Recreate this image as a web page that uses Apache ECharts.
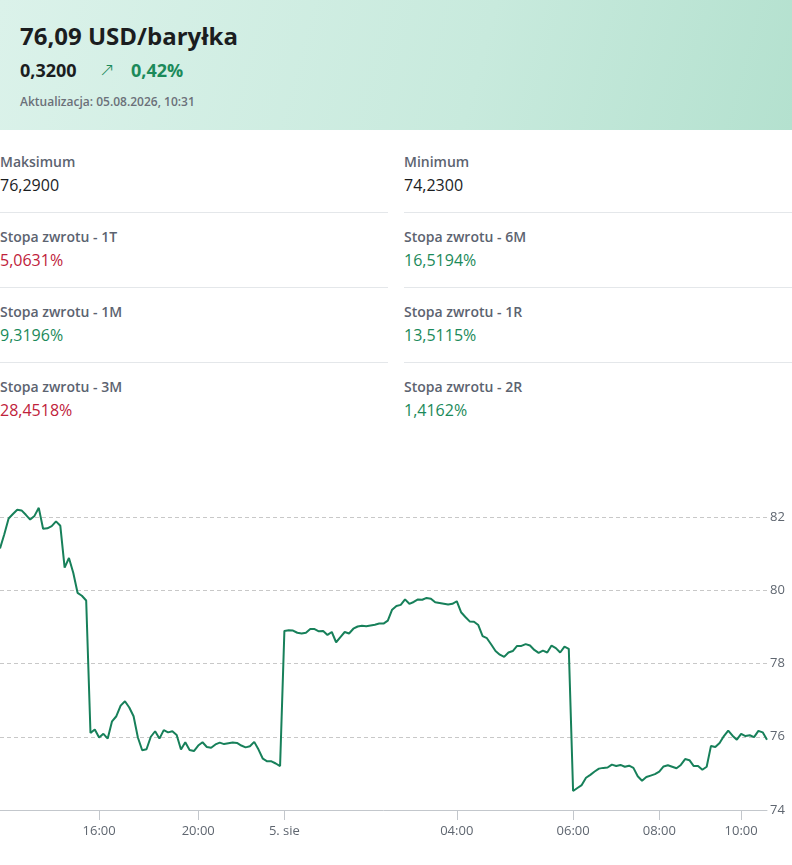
<!DOCTYPE html>
<html>
<head>
<meta charset="utf-8">
<script src="https://cdn.jsdelivr.net/npm/echarts@6/dist/echarts.min.js"></script>
<style>
  html, body { margin:0; padding:0; }
  body { width:792px; height:865px; overflow:hidden; position:relative; background:#fff; font-family:"Open Sans", "Noto Sans", sans-serif; }
  .hdr { position:absolute; left:0; top:0; width:792px; height:130px;
         background:linear-gradient(105deg, #dbf2ea 0%, #c8eadd 60%, #b4e1cf 100%); }
  .title { position:absolute; left:20px; top:24px; font-size:24px; line-height:24px; font-weight:700; color:#1b1d1f; white-space:nowrap; }
  .chg { position:absolute; left:20px; top:61px; font-size:18px; line-height:18px; font-weight:700; color:#1b1d1f; }
  .arrow { position:absolute; left:99px; top:58px; font-size:19px; line-height:22px; color:#1b8a5a; font-family:"DejaVu Sans", sans-serif; font-weight:300; }
  .pct { position:absolute; left:131px; top:61px; font-size:18px; line-height:18px; font-weight:700; color:#1b8a5a; }
  .upd { position:absolute; left:20px; top:95px; font-size:12px; line-height:14px; font-weight:600; color:#6b7079; white-space:nowrap; }
  .lab { position:absolute; font-size:14px; line-height:20px; font-weight:600; color:#5c6370; white-space:nowrap; }
  .val { position:absolute; font-size:16px; line-height:22px; font-weight:500; color:#1b1d1f; white-space:nowrap; }
  .val.up { color:#1b8a5a; }
  .val.down { color:#c0223b; }
  .div { position:absolute; height:1px; background:#e4e7ea; }
  #chart { position:absolute; left:0; top:440px; width:792px; height:425px; }
</style>
</head>
<body>
<div class="hdr">
  <div class="title">76,09 USD/baryłka</div>
  <div class="chg">0,3200</div>
  <div class="arrow">↗</div>
  <div class="pct">0,42%</div>
  <div class="upd">Aktualizacja: 05.08.2026, 10:31</div>
</div>
<div id="stats"></div>
<div id="chart"></div>
<script>
// ---- stats ----
const leftLabels  = ["Maksimum", "Stopa zwrotu - 1T", "Stopa zwrotu - 1M", "Stopa zwrotu - 3M"];
const leftValues  = ["76,2900", "5,0631%", "9,3196%", "28,4518%"];
const leftTrend   = ["", "down", "up", "down"];
const rightLabels = ["Minimum", "Stopa zwrotu - 6M", "Stopa zwrotu - 1R", "Stopa zwrotu - 2R"];
const rightValues = ["74,2300", "16,5194%", "13,5115%", "1,4162%"];
const rightTrend  = ["", "up", "up", "up"];

// ---- chart data ----
const times = [
  "12:10","12:20","12:30","12:40","12:50","13:00","13:10","13:20","13:30","13:40","13:50","14:00",
  "14:10","14:20","14:30","14:40","14:50","15:00","15:10","15:20","15:30","15:40","15:50","16:00",
  "16:10","16:20","16:30","16:40","16:50","17:00","17:10","17:20","17:30","17:40","17:50","18:00",
  "18:10","18:20","18:30","18:40","18:50","19:00","19:10","19:20","19:30","19:40","20:00",
  "20:12","20:24","20:36","20:48","21:00","21:12","21:24","21:36","21:48","22:00","22:12","22:24",
  "22:36","22:48","23:00","23:12","23:24","23:36","23:48","00:00",
  "00:06","00:12","00:18","00:24","00:30","00:36","00:42","00:48","00:54","01:00",
  "01:06","01:12","01:18","01:24","01:30","01:36","01:42","01:48","01:54","02:00",
  "02:06","02:12","02:18","02:24","02:30","02:36","02:42","02:48","02:54","03:00",
  "03:06","03:12","03:18","03:24","03:30","03:36","03:42","03:48","03:54","04:00",
  "04:04","04:08","04:12","04:16","04:20","04:24","04:28","04:32","04:36","04:44","04:48","04:52","04:56",
  "05:00","05:04","05:08","05:12","05:20","05:24","05:28","05:32","05:36","05:40","05:44","05:48","05:56","06:00",
  "06:06","06:12","06:18","06:24","06:30","06:36","06:42","06:48","06:54","07:00",
  "07:06","07:12","07:18","07:24","07:30","07:36","07:42","07:48","07:54","08:00",
  "08:06","08:12","08:18","08:24","08:30","08:36","08:42","08:48","08:54","09:00",
  "09:06","09:12","09:18","09:24","09:30","09:36","09:42","09:48","10:00",
  "10:05","10:10","10:15","10:20","10:25","10:31"
];
const prices = [
  81.14,81.53,81.96,82.08,82.20,82.18,82.06,81.93,82.03,82.25,81.68,81.69,
  81.75,81.88,81.76,80.62,80.88,80.48,79.93,79.85,79.72,76.10,76.20,75.98,
  76.08,75.95,76.42,76.56,76.85,76.97,76.80,76.56,75.98,75.63,75.66,76.00,
  76.15,75.95,76.18,76.12,76.15,76.05,75.65,75.85,75.64,75.61,75.76,
  75.85,75.72,75.70,75.79,75.84,75.80,75.82,75.84,75.83,75.76,75.71,75.74,
  75.86,75.65,75.40,75.33,75.33,75.27,75.20,78.89,
  78.91,78.90,78.84,78.82,78.84,78.94,78.94,78.88,78.89,78.78,
  78.86,78.58,78.72,78.86,78.82,78.95,79.01,79.03,79.02,79.04,
  79.06,79.09,79.09,79.17,79.47,79.57,79.60,79.75,79.63,79.68,
  79.75,79.74,79.79,79.77,79.67,79.65,79.63,79.61,79.63,79.70,
  79.40,79.27,79.15,79.14,79.05,78.75,78.69,78.52,78.34,78.24,78.18,78.30,78.34,
  78.48,78.48,78.53,78.49,78.37,78.29,78.35,78.30,78.49,78.42,78.30,78.46,78.40,74.52,
  74.60,74.68,74.88,74.96,75.05,75.13,75.15,75.16,75.24,75.20,
  75.23,75.18,75.21,75.15,74.92,74.80,74.90,74.94,74.98,75.05,
  75.19,75.22,75.18,75.14,75.23,75.39,75.36,75.20,75.20,75.10,
  75.18,75.75,75.72,75.83,76.02,76.17,76.03,75.92,76.08,
  76.02,76.04,75.99,76.16,76.12,75.92
];
const tickTimes  = ["16:00","20:00","00:00","04:00","06:00","08:00","10:00"];
const tickLabels = ["16:00","20:00","5. sie","04:00","06:00","08:00","10:00"];
const yTicks = [74, 76, 78, 80, 82];

// ---- build stats block ----
(function(){
  const host = document.getElementById('stats');
  let html = '';
  function col(labels, values, trend, x, w){
    for (let i = 0; i < labels.length; i++){
      const rowTop = 75 * i;
      html += '<div class="lab" style="left:'+x+'px;top:'+(152+rowTop)+'px">'+labels[i]+'</div>';
      html += '<div class="val '+trend[i]+'" style="left:'+x+'px;top:'+(174+rowTop)+'px">'+values[i]+'</div>';
      if (i < labels.length - 1)
        html += '<div class="div" style="left:'+x+'px;top:'+(212+rowTop)+'px;width:'+w+'px"></div>';
    }
  }
  col(leftLabels, leftValues, leftTrend, 0, 388);
  col(rightLabels, rightValues, rightTrend, 404, 388);
  host.innerHTML = html;
})();

// ---- chart ----
const chart = echarts.init(document.getElementById('chart'), null, {renderer:'canvas'});
const isTick = (i, v) => tickTimes.indexOf(v) >= 0;
chart.setOption({
  animation: false,
  grid: { left: 0, right: 25, top: 77, bottom: 55, containLabel: false },
  xAxis: {
    type: 'category',
    data: times,
    boundaryGap: false,
    axisLine: { lineStyle: { color: '#c3c7cc', width: 1 } },
    axisTick: { interval: isTick, length: 10, lineStyle: { color: '#c3c7cc' } },
    axisLabel: {
      interval: isTick,
      formatter: v => tickLabels[tickTimes.indexOf(v)],
      margin: 15, color: '#5f6670', fontSize: 13, fontFamily: 'Open Sans'
    },
    splitLine: { show: false }
  },
  yAxis: {
    type: 'value',
    position: 'right',
    min: yTicks[0], max: yTicks[yTicks.length - 1], interval: 2,
    axisLine: { show: false },
    axisTick: { show: false },
    axisLabel: { margin: 3, color: '#5f6670', fontSize: 13, fontFamily: 'Open Sans' },
    splitLine: { lineStyle: { color: '#c8c8c8', type: [4, 3], width: 1 } }
  },
  series: [{
    type: 'line',
    data: prices,
    clip: false,
    showSymbol: false,
    symbol: 'none',
    lineStyle: { color: '#17805a', width: 2 },
    emphasis: { disabled: true }
  }]
});
</script>
</body>
</html>
